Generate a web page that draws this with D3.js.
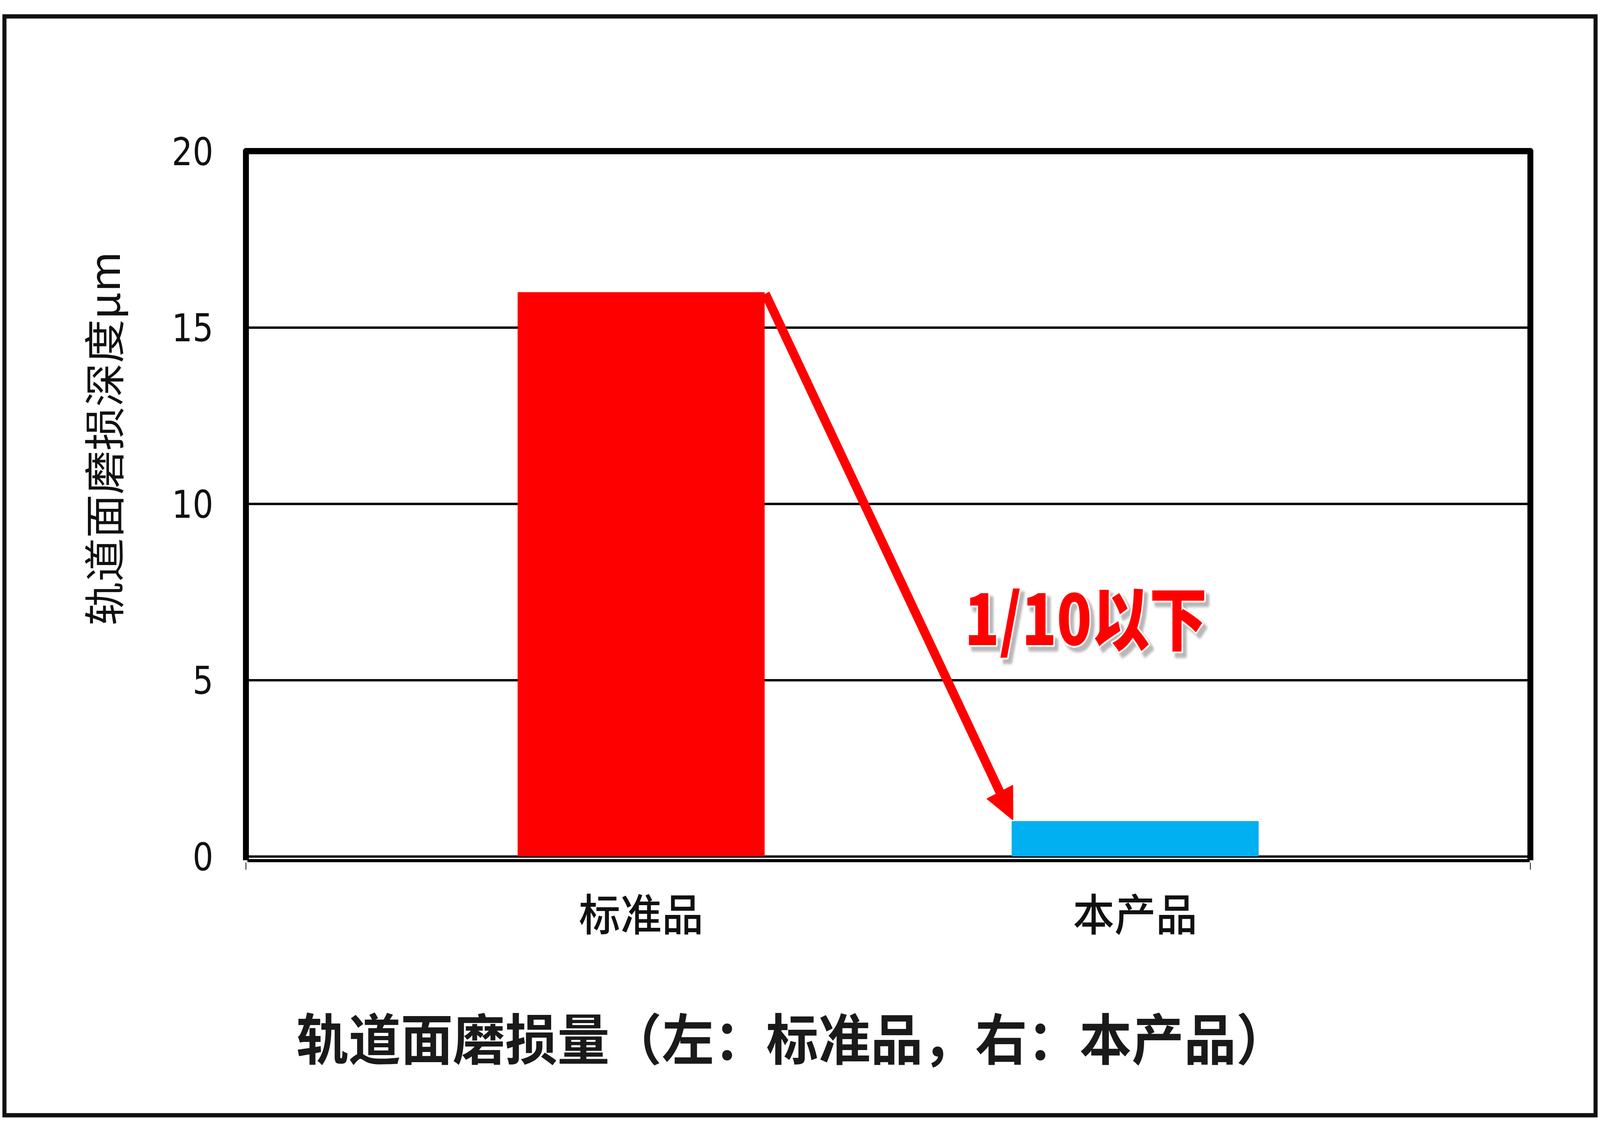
<!DOCTYPE html>
<html>
<head>
<meta charset="utf-8">
<script src="https://cdn.jsdelivr.net/npm/d3@7"></script>
<style>
  html, body { margin: 0; padding: 0; background: #fff; overflow: hidden; }
  svg { display: block; width: 100vw; height: 100vh; }
</style>
</head>
<body>
<svg id="chart"></svg>
<script>
// data
const categories = ['标准品', '本产品'];
const depthValues = [16, 1];
const yTicks = [0, 5, 10, 15, 20];
const barColors = ['#FF0000', '#00B0F0'];
const yTitle = '轨道面磨损深度μm';
const chartTitle = '轨道面磨损量（左：标准品，右：本产品）';
const callout = '1/10以下';

var width = 4320;
var height = 2904;

// drawn in a fixed 4320x2904 space, stretched to fill the window
var svg = d3.select('#chart')
  .attr('viewBox', `0 0 ${width} ${height}`)
  .attr('preserveAspectRatio', 'none');

var defs = svg.append('defs');
defs.append('filter')
  .attr('id', 'calloutShadow')
  .attr('x', '-10%').attr('y', '-20%')
  .attr('width', '130%').attr('height', '150%')
  .append('feDropShadow')
  .attr('dx', 10).attr('dy', 12)
  .attr('stdDeviation', 3)
  .attr('flood-color', '#9a9a9a')
  .attr('flood-opacity', 0.7);

svg.append('rect')
  .attr('width', width)
  .attr('height', height)
  .attr('fill', '#fff');

// outer frame
svg.append('rect')
  .attr('x', 12)
  .attr('y', 42)
  .attr('width', 4296)
  .attr('height', 2814)
  .attr('fill', 'none')
  .attr('stroke', '#111')
  .attr('stroke-width', 11);

var plotLeft = 664, plotRight = 4132, plotTop = 387, plotBottom = 2193;

var x = d3.scaleBand()
  .domain(categories)
  .range([plotLeft, plotRight])
  .paddingInner(0.5)
  .paddingOuter(0.55);

var y = d3.scaleLinear()
  .domain([0, 20])
  .range([plotBottom, plotTop]);

// gridlines
var grid = svg.append('g')
  .attr('transform', `translate(${plotLeft},0)`)
  .call(d3.axisLeft(y).tickValues(yTicks).tickSize(-(plotRight - plotLeft)).tickFormat(''));
grid.select('.domain').remove();
grid.selectAll('line').attr('stroke', '#000').attr('stroke-width', 6);

// y tick labels
var yAxis = svg.append('g')
  .attr('transform', `translate(${plotLeft},0)`)
  .call(d3.axisLeft(y).tickValues(yTicks).tickSize(0).tickPadding(88));
yAxis.select('.domain').remove();
yAxis.selectAll('text')
  .attr('font-family', '"Liberation Sans Narrow", "DejaVu Sans Condensed", sans-serif')
  .attr('font-size', 98)
  .attr('fill', '#111')
  .attr('dy', '0.36em');

// bars
svg.selectAll('rect.bar')
  .data(categories)
  .join('rect')
  .attr('class', 'bar')
  .attr('x', d => x(d))
  .attr('y', (d, i) => y(depthValues[i]))
  .attr('width', x.bandwidth())
  .attr('height', (d, i) => y(0) - y(depthValues[i]))
  .attr('fill', (d, i) => barColors[i]);

// plot frame (left, top, right)
svg.append('path')
  .attr('d', `M${plotLeft},${y(0) + 10}V${y(20)}H${plotRight}V${y(0) + 10}`)
  .attr('fill', 'none')
  .attr('stroke', '#000')
  .attr('stroke-width', 16)
  .attr('stroke-linejoin', 'round');

// category axis line just under the zero line
var axisY = y(0) + 11;
svg.append('line')
  .attr('x1', plotLeft + 4).attr('x2', plotRight - 2)
  .attr('y1', axisY).attr('y2', axisY)
  .attr('stroke', '#000').attr('stroke-width', 8);
svg.selectAll('line.endTick')
  .data(x.range())
  .join('line')
  .attr('class', 'endTick')
  .attr('x1', d => d).attr('x2', d => d)
  .attr('y1', axisY + 5).attr('y2', axisY + 23)
  .attr('stroke', '#000').attr('stroke-width', 2);

// category labels
svg.selectAll('text.cat')
  .data(categories)
  .join('text')
  .attr('class', 'cat')
  .attr('x', d => x(d) + x.bandwidth() / 2)
  .attr('y', 2335)
  .attr('text-anchor', 'middle')
  .attr('dominant-baseline', 'central')
  .attr('font-family', '"Noto Sans CJK SC", sans-serif')
  .attr('font-size', 112)
  .attr('font-weight', 500)
  .attr('fill', '#111')
  .text(d => d);

// y axis title
svg.append('text')
  .attr('transform', 'translate(275,1123) rotate(-90)')
  .attr('text-anchor', 'middle')
  .attr('dominant-baseline', 'central')
  .attr('font-family', '"Noto Sans CJK SC", sans-serif')
  .attr('font-size', 112)
  .attr('fill', '#111')
  .text(yTitle);

// arrow from top of red bar to top of blue bar
var start = [x(categories[0]) + x.bandwidth(), y(depthValues[0])];
var tip = [x(categories[1]) + 3, y(depthValues[1]) - 4];
var dx = tip[0] - start[0], dy = tip[1] - start[1];
var len = Math.sqrt(dx * dx + dy * dy);
var ux = dx / len, uy = dy / len;
var headLen = 78, headHalf = 38;
var base = [tip[0] - ux * headLen, tip[1] - uy * headLen];

svg.append('line')
  .attr('x1', start[0] + 2).attr('y1', start[1] + 4)
  .attr('x2', base[0] + ux * 4).attr('y2', base[1] + uy * 4)
  .attr('stroke', '#FF0000')
  .attr('stroke-width', 24);
svg.append('polygon')
  .attr('points', [
    tip,
    [base[0] - uy * headHalf, base[1] + ux * headHalf],
    [base[0] + uy * headHalf, base[1] - ux * headHalf]
  ].map(p => p.join(',')).join(' '))
  .attr('fill', '#FF0000')
  .attr('stroke', '#FF0000')
  .attr('stroke-width', 3)
  .attr('stroke-linejoin', 'round');

// callout text with white outline and grey shadow
svg.append('text')
  .attr('x', 2604)
  .attr('y', 1652)
  .attr('textLength', 655)
  .attr('lengthAdjust', 'spacingAndGlyphs')
  .attr('font-family', '"Noto Sans CJK SC", sans-serif')
  .attr('font-weight', 900)
  .attr('font-size', 178)
  .attr('fill', '#FF0000')
  .attr('stroke', '#fff')
  .attr('stroke-width', 9)
  .attr('stroke-linejoin', 'round')
  .attr('paint-order', 'stroke')
  .attr('filter', 'url(#calloutShadow)')
  .text(callout);

// bottom title
svg.append('text')
  .attr('x', 800)
  .attr('y', 2653)
  .attr('dominant-baseline', 'central')
  .attr('font-family', '"Noto Sans CJK SC", sans-serif')
  .attr('font-weight', 700)
  .attr('font-size', 141)
  .attr('fill', '#1a1a1a')
  .text(chartTitle);
</script>
</body>
</html>
